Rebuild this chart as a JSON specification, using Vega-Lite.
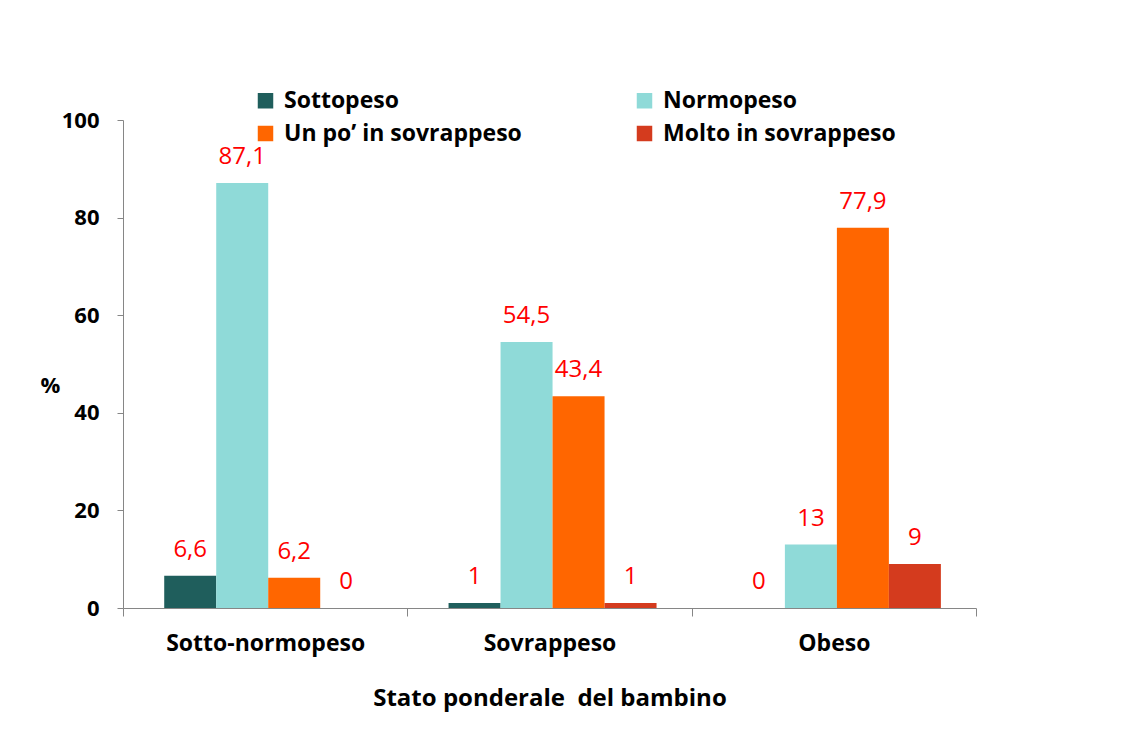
{
  "$schema": "https://vega.github.io/schema/vega-lite/v6.json",
  "width": 853,
  "height": 488,
  "autosize": {"type": "none"},
  "padding": {"left": 123, "top": 120, "right": 153, "bottom": 123},
  "background": "white",
  "config": {
    "view": {"stroke": null},
    "font": "Open Sans",
    "locale": {"number": {"decimal": ",", "thousands": ".", "grouping": [3], "currency": ["€", ""]}}
  },
  "data": {
    "values": [
      {"stato": "Sotto-normopeso", "percezione": "Sottopeso", "value": 6.6},
      {"stato": "Sotto-normopeso", "percezione": "Normopeso", "value": 87.1},
      {"stato": "Sotto-normopeso", "percezione": "Un po’ in sovrappeso", "value": 6.2},
      {"stato": "Sotto-normopeso", "percezione": "Molto in sovrappeso", "value": 0},
      {"stato": "Sovrappeso", "percezione": "Sottopeso", "value": 1},
      {"stato": "Sovrappeso", "percezione": "Normopeso", "value": 54.5},
      {"stato": "Sovrappeso", "percezione": "Un po’ in sovrappeso", "value": 43.4},
      {"stato": "Sovrappeso", "percezione": "Molto in sovrappeso", "value": 1},
      {"stato": "Obeso", "percezione": "Sottopeso", "value": 0},
      {"stato": "Obeso", "percezione": "Normopeso", "value": 13},
      {"stato": "Obeso", "percezione": "Un po’ in sovrappeso", "value": 77.9},
      {"stato": "Obeso", "percezione": "Molto in sovrappeso", "value": 9}
    ]
  },
  "encoding": {
    "x": {
      "field": "stato", "type": "nominal", "sort": null,
      "scale": {"paddingInner": 0, "paddingOuter": 0},
      "axis": {
        "title": "Stato ponderale \u00a0del bambino",
        "labelAngle": 0, "labelFontSize": 23, "labelFontWeight": "bold", "labelColor": "black", "labelLimit": 300,
        "labelPadding": 16, "tickBand": "extent", "tickSize": 8, "tickColor": "#868686",
        "domainColor": "#868686", "grid": false,
        "titleFontSize": 24, "titleFontWeight": "bold", "titleColor": "black", "titlePadding": 31
      }
    },
    "xOffset": {
      "field": "percezione", "type": "nominal", "sort": null,
      "scale": {"paddingInner": 0, "paddingOuter": 0.734, "align": 0.54}
    },
    "y": {
      "field": "value", "type": "quantitative",
      "scale": {"domain": [0, 100], "nice": false},
      "axis": {
        "title": "%", "titleAngle": 0, "titleX": -73, "titleY": 265, "titleAlign": "center", "titleBaseline": "middle",
        "titleFontSize": 22, "titleFontWeight": "bold", "titleColor": "black",
        "values": [0, 20, 40, 60, 80, 100], "labelFontSize": 22, "labelFontWeight": "bold", "labelColor": "black",
        "labelPadding": 18, "tickSize": 6, "tickColor": "#868686", "domainColor": "#868686", "grid": false
      }
    }
  },
  "layer": [
    {
      "mark": {"type": "bar"},
      "encoding": {
        "color": {
          "field": "percezione", "type": "nominal", "sort": null,
          "scale": {
            "domain": ["Sottopeso", "Normopeso", "Un po’ in sovrappeso", "Molto in sovrappeso"],
            "range": ["#1F5E5C", "#8FDAD8", "#FF6600", "#D43B1E"]
          },
          "legend": {
            "title": null, "orient": "none", "direction": "horizontal", "legendX": 131, "legendY": -31, "columns": 2,
            "symbolType": "square", "symbolSize": 240, "symbolStrokeWidth": 0,
            "labelFontSize": 23, "labelFontWeight": "bold", "labelColor": "black",
            "labelLimit": 400, "columnPadding": 111, "rowPadding": 9, "labelOffset": 7
          }
        }
      }
    },
    {
      "mark": {"type": "text", "baseline": "alphabetic", "dy": -19, "fontSize": 24, "color": "#FF0000"},
      "encoding": {
        "text": {"field": "value", "type": "quantitative", "format": ".1~f"}
      }
    }
  ]
}
